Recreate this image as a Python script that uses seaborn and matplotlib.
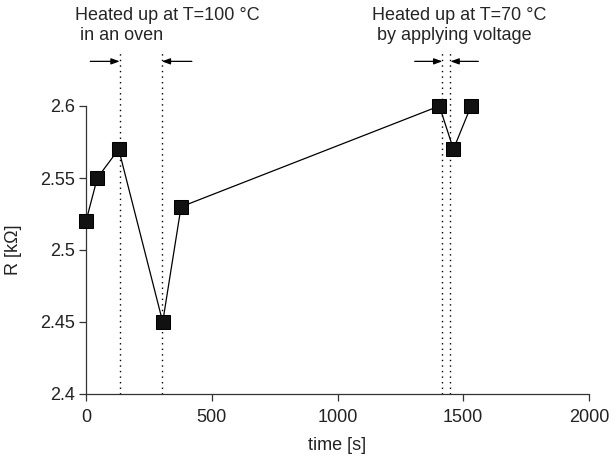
import matplotlib
matplotlib.use("Agg")
import matplotlib.pyplot as plt
import seaborn as sns
import pandas as pd

# data
time_s = [0, 45, 130, 305, 378, 1405, 1461, 1531]
resistance_kohm = [2.52, 2.55, 2.57, 2.45, 2.53, 2.60, 2.57, 2.60]
marker_times = [134, 301, 1417, 1449]
x_ticks = [0, 500, 1000, 1500, 2000]
y_ticks = [2.4, 2.45, 2.5, 2.55, 2.6]
y_tick_labels = ["2.4", "2.45", "2.5", "2.55", "2.6"]
annot1 = ["Heated up at T=100 °C", " in an oven"]
annot2 = ["Heated up at T=70 °C", " by applying voltage"]

sns.set_style("ticks")
plt.rcParams["font.family"] = ["Liberation Sans", "DejaVu Sans"]

df = pd.DataFrame({"time": time_s, "R": resistance_kohm})

fig = plt.figure(figsize=(6.13, 4.71), dpi=100)
ax = fig.add_axes([86 / 613, 1 - 394 / 471, (589 - 86) / 613, (394 - 48.4) / 471])

sns.lineplot(data=df, x="time", y="R", ax=ax, color="black", linewidth=0.9,
             marker="s", markersize=9.5, markeredgecolor="black",
             markerfacecolor="#111111", sort=False, estimator=None,
             clip_on=False, zorder=3)

ax.set_xlim(0, 2000)
ax.set_ylim(2.4, 2.64)

# vertical dotted lines
ax.vlines(marker_times, 2.4, 2.637, colors="black", linestyles=(0, (1, 3)),
          linewidth=1.0, zorder=1)

# arrows
arrow_y = 2.631
arrow_kw = dict(arrowstyle="-|>,head_length=0.5,head_width=0.18", color="black", lw=0.9,
                shrinkA=0, shrinkB=0)
ax.annotate("", xy=(marker_times[0], arrow_y), xytext=(17, arrow_y), arrowprops=arrow_kw)
ax.annotate("", xy=(marker_times[1], arrow_y), xytext=(421, arrow_y), arrowprops=arrow_kw)
ax.annotate("", xy=(marker_times[2], arrow_y), xytext=(1307, arrow_y), arrowprops=arrow_kw)
ax.annotate("", xy=(marker_times[3], arrow_y), xytext=(1560, arrow_y), arrowprops=arrow_kw)

# annotations
fig.text(75 / 613, 1 - 20 / 471, annot1[0], fontsize=13, va="baseline", ha="left")
fig.text(75 / 613, 1 - 40 / 471, annot1[1], fontsize=13, va="baseline", ha="left")
fig.text(372 / 613, 1 - 20 / 471, annot2[0], fontsize=13, va="baseline", ha="left")
fig.text(372 / 613, 1 - 40 / 471, annot2[1], fontsize=13, va="baseline", ha="left")

ax.set_xticks(x_ticks)
ax.set_yticks(y_ticks)
ax.set_yticklabels(y_tick_labels)
ax.tick_params(axis="both", labelsize=13, length=5, width=0.9, direction="out",
               color="#333333", labelcolor="#222222")
ax.tick_params(axis="y", pad=3)
ax.tick_params(axis="x", pad=6)

sns.despine(ax=ax)
ax.spines["left"].set_bounds(2.4, 2.6)
for s in ("left", "bottom"):
    ax.spines[s].set_linewidth(0.9)
    ax.spines[s].set_color("#333333")

ax.set_xlabel("time [s]", fontsize=13, labelpad=8, color="#222222")
ax.set_ylabel("R [kΩ]", fontsize=13, color="#222222")
ax.yaxis.set_label_coords(-(86 - 22) / (589 - 86), (394 - 250) / (394 - 48.4))

fig.savefig("out.png", dpi=100)
